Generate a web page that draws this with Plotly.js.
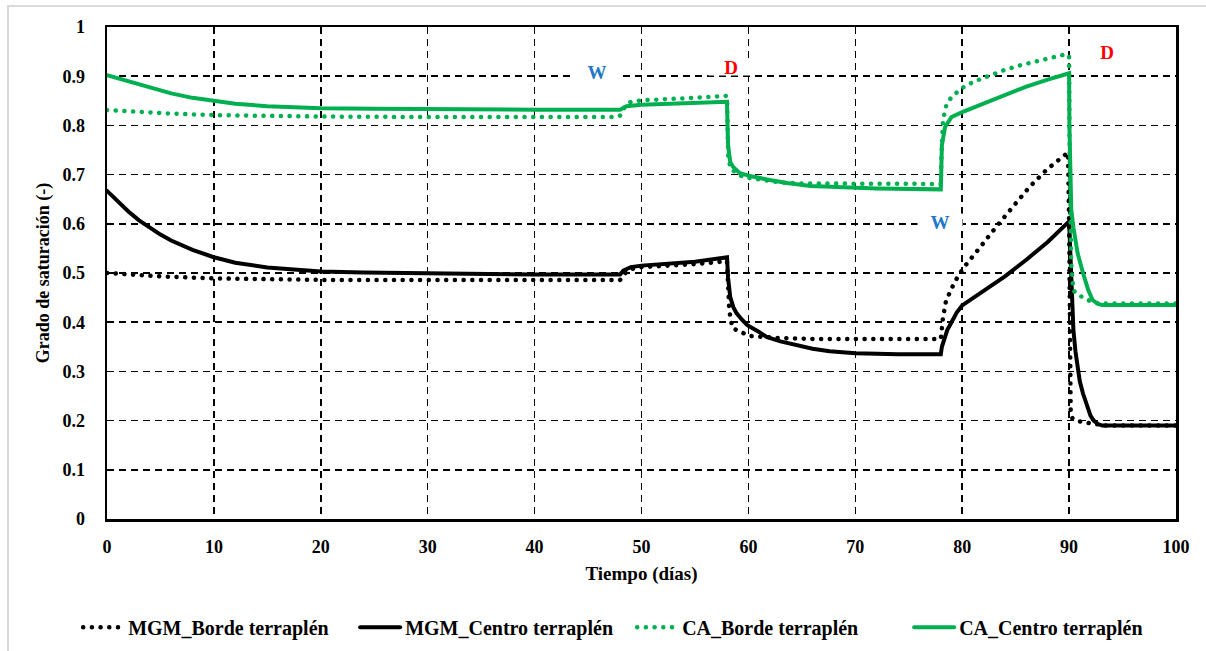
<!DOCTYPE html>
<html>
<head>
<meta charset="utf-8">
<script src="https://cdn.plot.ly/plotly-3.0.1.min.js"></script>
<style>
  html, body { margin: 0; padding: 0; background: #fff; overflow: hidden; }
  #chart { width: 1206px; height: 651px; position: absolute; left: 0; top: 0; }
  #frame { position: absolute; left: 7px; top: 5px; width: 1300px; height: 800px;
           border-left: 2px solid #d9d9d9; border-top: 2px solid #d9d9d9; pointer-events: none; }
  path.js-line { stroke-linecap: round; }
</style>
</head>
<body>
<div id="chart"></div>
<div id="frame"></div>
<script>
// ---- Data ----
const seriesNames = ["MGM_Borde terraplén", "MGM_Centro terraplén", "CA_Borde terraplén", "CA_Centro terraplén"];

const mgmBordeX = [0, 2, 5, 10, 15, 20, 30, 40, 48, 48.5, 49, 50, 55, 58,
  58.1, 58.2, 58.5, 59.4, 60.1, 62.7, 66, 70, 78,
  78.2, 78.5, 78.9, 79.3, 80.1, 80.9, 81.7, 83.3, 84.8, 86.3, 87.9, 89.4, 89.9,
  90.0, 90.05, 90.1, 90.15, 90.3, 90.6, 91.5, 92.5, 93.5, 100];
const mgmBordeY = [0.500, 0.497, 0.493, 0.489, 0.487, 0.486, 0.486, 0.486, 0.486, 0.500, 0.508, 0.512, 0.518, 0.524,
  0.459, 0.425, 0.388, 0.378, 0.372, 0.368, 0.366, 0.366, 0.366,
  0.409, 0.445, 0.463, 0.482, 0.510, 0.530, 0.553, 0.597, 0.637, 0.675, 0.710, 0.738, 0.745,
  0.600, 0.450, 0.300, 0.222, 0.205, 0.200, 0.196, 0.192, 0.190, 0.190];

const mgmCentroX = [0, 1, 2, 3, 4, 5, 6, 8, 10, 12, 15, 18, 20, 24, 30, 40, 48,
  48.3, 49, 50, 55, 58,
  58.1, 58.3, 58.6, 58.9, 59.4, 59.9, 61, 61.7, 63, 64.5, 66, 67.6, 70, 74, 78,
  78.1, 78.3, 78.6, 79, 79.5, 80, 81, 82, 84, 86, 88, 90,
  90.2, 90.4, 90.6, 90.8, 91, 91.3, 91.6, 92, 92.3, 92.7, 93.1, 95, 100];
const mgmCentroY = [0.667, 0.645, 0.625, 0.607, 0.592, 0.578, 0.566, 0.547, 0.532, 0.521, 0.511, 0.505, 0.503, 0.501, 0.499, 0.497, 0.497,
  0.505, 0.512, 0.515, 0.523, 0.532,
  0.490, 0.451, 0.430, 0.418, 0.405, 0.394, 0.380, 0.370, 0.361, 0.354, 0.346, 0.341, 0.337, 0.335, 0.335,
  0.350, 0.365, 0.384, 0.400, 0.420, 0.434, 0.449, 0.464, 0.493, 0.527, 0.563, 0.605,
  0.490, 0.385, 0.340, 0.305, 0.280, 0.255, 0.235, 0.210, 0.200, 0.193, 0.190, 0.190, 0.190];

const caBordeX = [0, 3, 6, 10, 15, 20, 30, 40, 47.5, 48, 48.5, 49, 50, 54, 58,
  58.05, 58.1, 58.3, 58.5, 59.5, 61.1, 63, 65, 70, 78,
  78.05, 78.1, 78.2, 78.5, 79, 80, 81, 82.3, 84, 85.4, 87.3, 89, 89.8, 90,
  90.05, 90.1, 90.2, 90.4, 90.8, 91.3, 91.8, 92.2, 93, 100];
const caBordeY = [0.831, 0.827, 0.824, 0.821, 0.819, 0.818, 0.817, 0.817, 0.817, 0.820, 0.840, 0.848, 0.851, 0.855, 0.860,
  0.800, 0.740, 0.715, 0.709, 0.695, 0.689, 0.684, 0.682, 0.681, 0.681,
  0.730, 0.770, 0.810, 0.840, 0.858, 0.876, 0.888, 0.899, 0.913, 0.922, 0.933, 0.941, 0.945, 0.940,
  0.750, 0.600, 0.520, 0.465, 0.455, 0.451, 0.445, 0.440, 0.438, 0.438];

const caCentroX = [0, 2, 4, 6, 8, 10, 12, 15, 18, 20, 25, 30, 40, 48,
  48.3, 48.6, 50, 55, 58,
  58.05, 58.1, 58.3, 58.6, 59.2, 60.4, 62, 63.6, 65.8, 68, 72, 78,
  78.05, 78.1, 78.4, 79, 80, 81, 82, 84, 86, 88, 90,
  90.03, 90.1, 90.2, 90.4, 90.8, 91.3, 91.8, 92.2, 92.7, 93.1, 100];
const caCentroY = [0.902, 0.889, 0.876, 0.865, 0.856, 0.849, 0.844, 0.839, 0.836, 0.835, 0.834, 0.833, 0.832, 0.832,
  0.836, 0.839, 0.842, 0.845, 0.848,
  0.800, 0.760, 0.725, 0.715, 0.703, 0.696, 0.689, 0.683, 0.677, 0.675, 0.672, 0.670,
  0.720, 0.760, 0.797, 0.817, 0.827, 0.836, 0.845, 0.863, 0.879, 0.893, 0.906,
  0.800, 0.690, 0.630, 0.593, 0.540, 0.500, 0.465, 0.445, 0.437, 0.435, 0.435];

const xTicks = [0, 10, 20, 30, 40, 50, 60, 70, 80, 90, 100];
const yTicks = [0, 0.1, 0.2, 0.3, 0.4, 0.5, 0.6, 0.7, 0.8, 0.9, 1];
const xTickLabels = ["0", "10", "20", "30", "40", "50", "60", "70", "80", "90", "100"];
const yTickLabels = ["0", "0.1", "0.2", "0.3", "0.4", "0.5", "0.6", "0.7", "0.8", "0.9", "1"];

const markLabels = ["W", "D", "W", "D"];
const markX = [45.8, 58.4, 77.9, 93.5];
const markY = [0.908, 0.918, 0.604, 0.949];
const markColors = ["#1f78c8", "#ff0000", "#1f78c8", "#ff0000"];

// ---- Chart ----
const FONT = "Liberation Serif";
const BLACK = "#000000";
const GREEN = "#00b050";
const DOTS = "0.1px,8.6px";
const bold = s => "<b>" + s + "</b>";

const traces = [
  {x: mgmBordeX, y: mgmBordeY, name: bold(seriesNames[0]), mode: "lines",
   line: {color: BLACK, width: 4.5, dash: DOTS}},
  {x: mgmCentroX, y: mgmCentroY, name: bold(seriesNames[1]), mode: "lines",
   line: {color: BLACK, width: 4}},
  {x: caBordeX, y: caBordeY, name: bold(seriesNames[2]), mode: "lines",
   line: {color: GREEN, width: 4.5, dash: DOTS}},
  {x: caCentroX, y: caCentroY, name: bold(seriesNames[3]), mode: "lines",
   line: {color: GREEN, width: 4}}
];

const annotations = markLabels.map((t, i) => ({
  x: markX[i], y: markY[i], xref: "x", yref: "y", text: bold(t),
  showarrow: false, font: {family: FONT, size: 19, color: markColors[i]},
  bgcolor: "#ffffff", width: 44, height: 16, borderpad: 0
}));

const layout = {
  width: 1206, height: 651,
  margin: {l: 107, r: 30, t: 27, b: 132, autoexpand: false},
  paper_bgcolor: "#ffffff", plot_bgcolor: "#ffffff",
  font: {family: FONT, size: 18, color: BLACK},
  showlegend: true,
  legend: {orientation: "h", x: -0.027, xanchor: "left", y: -0.22, yanchor: "middle",
           font: {family: FONT, size: 20, color: BLACK},
           traceorder: "normal", itemwidth: 40, entrywidth: 222, entrywidthmode: "pixels",
           bgcolor: "rgba(0,0,0,0)"},
  xaxis: {
    range: [0, 100], tickvals: xTicks, ticktext: xTickLabels.map(bold), ticks: "",
    showline: true, linecolor: BLACK, linewidth: 2.5,
    mirror: true, showgrid: true, gridcolor: BLACK, gridwidth: 1.5, griddash: "7px,5px",
    zeroline: false, ticklabelstandoff: 10,
    tickfont: {family: FONT, size: 18, color: BLACK},
    title: {text: bold("Tiempo (días)"), font: {family: FONT, size: 19, color: BLACK}, standoff: 11}
  },
  yaxis: {
    range: [0, 1], tickvals: yTicks, ticktext: yTickLabels.map(bold), ticks: "",
    showline: true, linecolor: BLACK, linewidth: 2.5,
    mirror: true, showgrid: true, gridcolor: BLACK, gridwidth: 1.5, griddash: "7px,5px",
    zeroline: false, ticklabelstandoff: 16,
    tickfont: {family: FONT, size: 18, color: BLACK},
    title: {text: bold("Grado de saturación (-)"), font: {family: FONT, size: 18, color: BLACK}, standoff: 8}
  },
  annotations: annotations
};

Plotly.newPlot("chart", traces, layout, {displayModeBar: false, staticPlot: true});
</script>
</body>
</html>
